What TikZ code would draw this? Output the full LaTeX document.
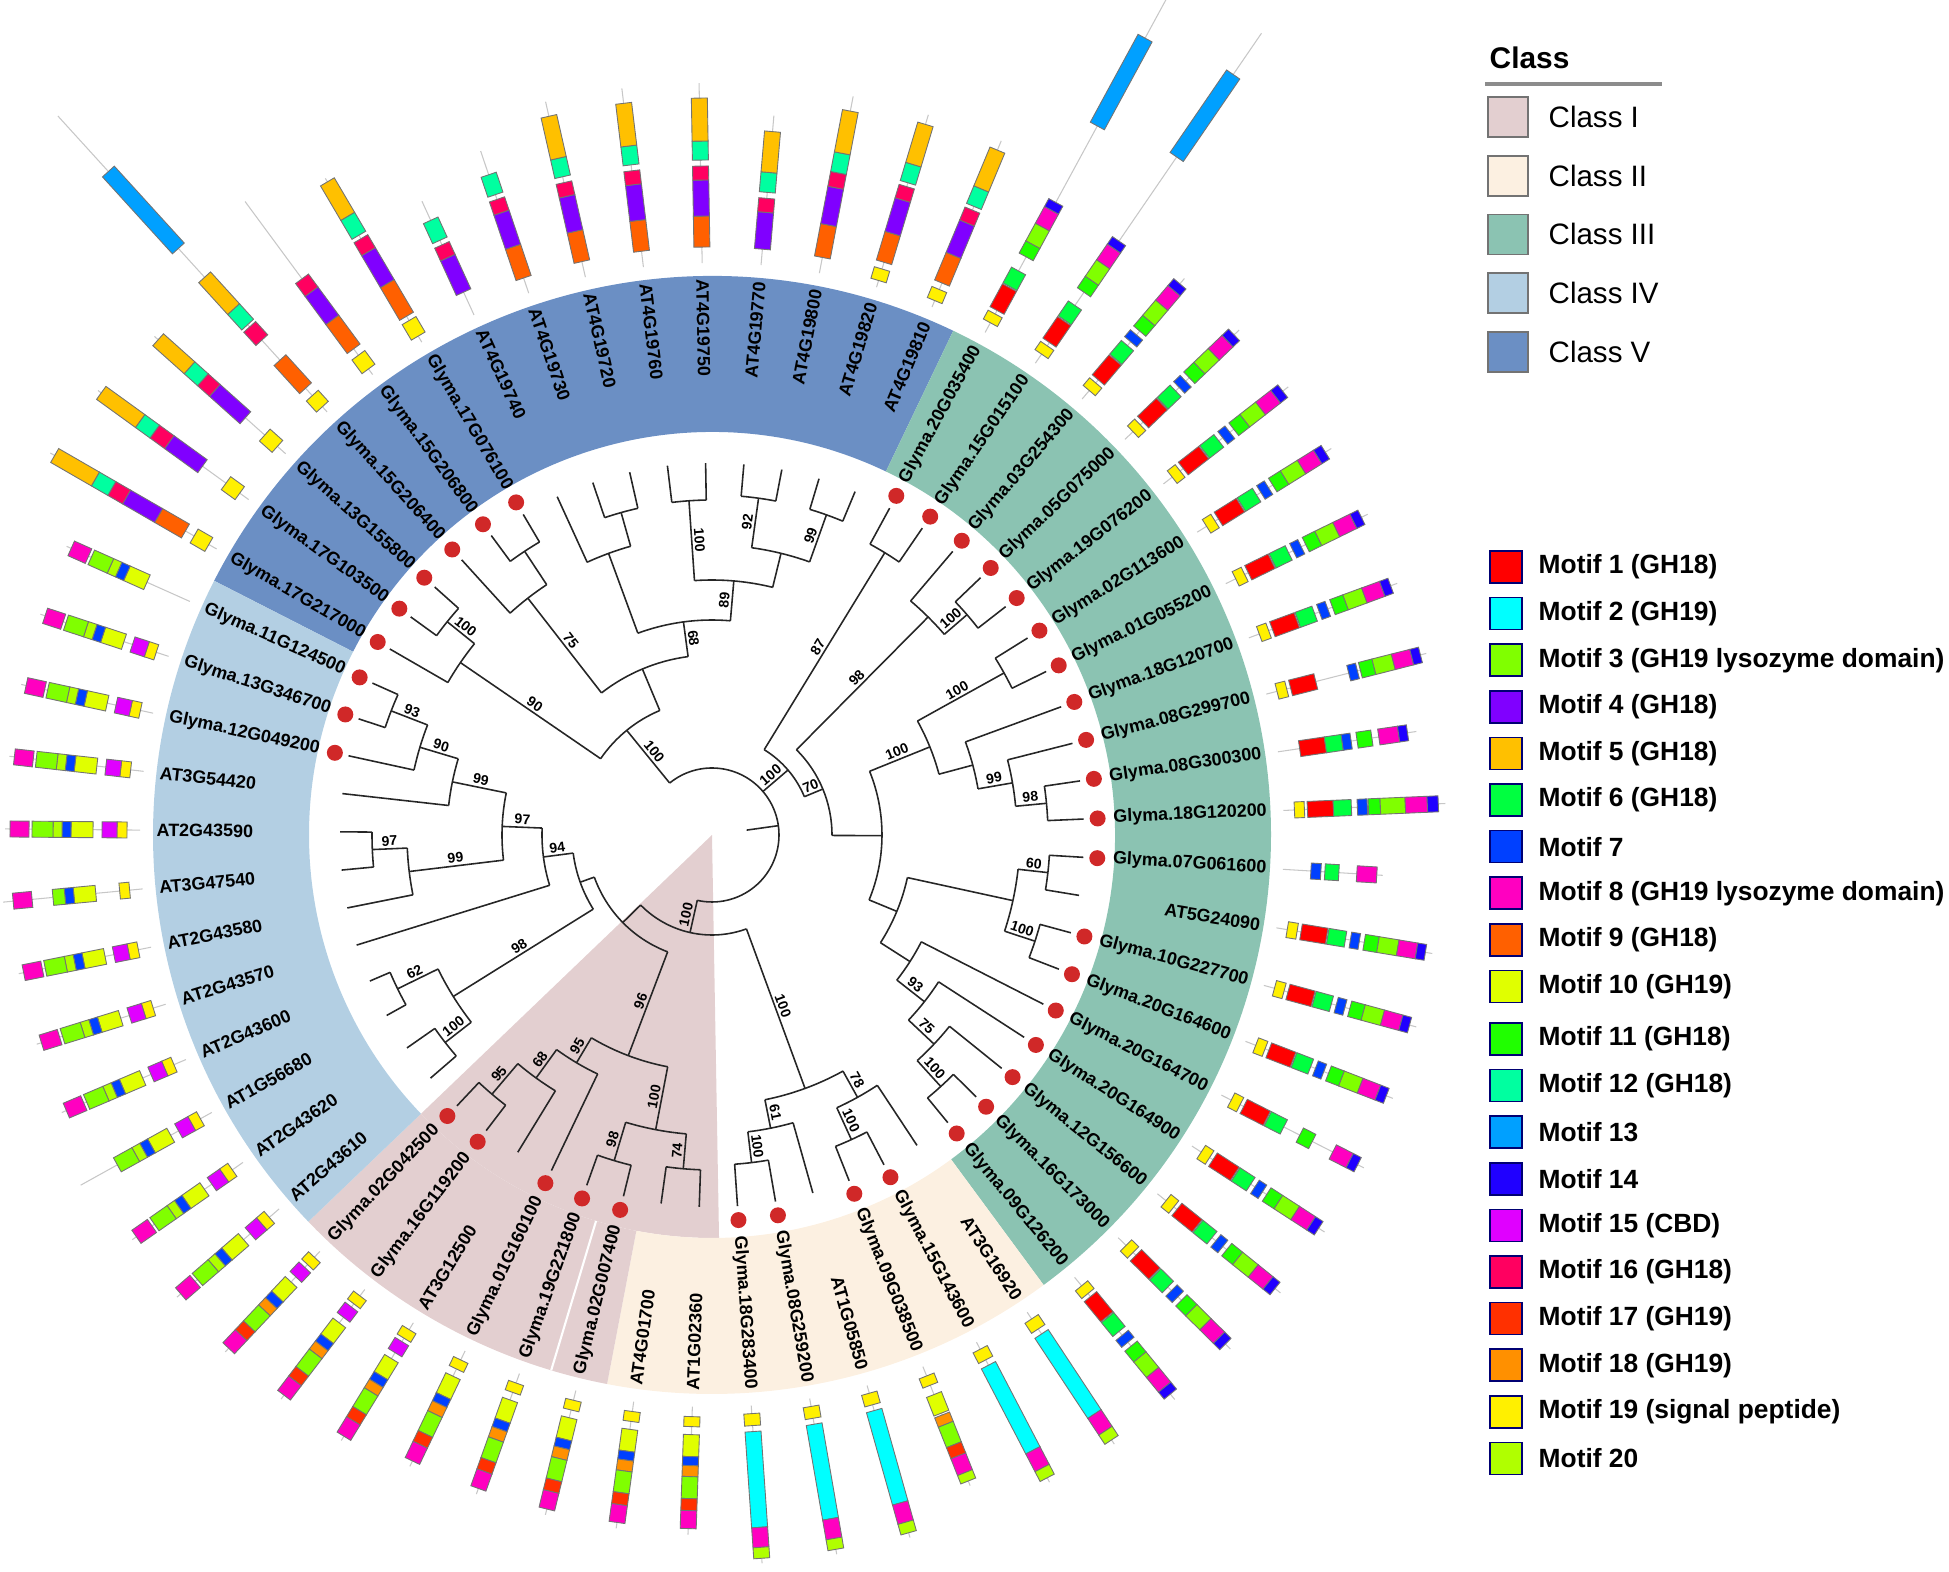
\documentclass[tikz,border=0pt]{standalone}
\usepackage{fontspec}
\setmainfont{Liberation Sans}

\definecolor{clsI}{HTML}{E3CFD0}
\definecolor{clsII}{HTML}{FCF0E1}
\definecolor{clsIII}{HTML}{8BC3B2}
\definecolor{clsIV}{HTML}{B3CFE3}
\definecolor{clsV}{HTML}{6B8FC4}
\definecolor{dotred}{HTML}{D02828}
\definecolor{m1}{HTML}{FF0000}
\definecolor{m2}{HTML}{00FFFF}
\definecolor{m3}{HTML}{80FF00}
\definecolor{m4}{HTML}{8000FF}
\definecolor{m5}{HTML}{FFC000}
\definecolor{m6}{HTML}{00FF40}
\definecolor{m7}{HTML}{0040FF}
\definecolor{m8}{HTML}{FF00C0}
\definecolor{m9}{HTML}{FF6000}
\definecolor{m10}{HTML}{E0FF00}
\definecolor{m11}{HTML}{20FF00}
\definecolor{m12}{HTML}{00FFA0}
\definecolor{m13}{HTML}{00A0FF}
\definecolor{m14}{HTML}{2000FF}
\definecolor{m15}{HTML}{E000FF}
\definecolor{m16}{HTML}{FF0060}
\definecolor{m17}{HTML}{FF3000}
\definecolor{m18}{HTML}{FF9000}
\definecolor{m19}{HTML}{FFF000}
\definecolor{m20}{HTML}{B0FF00}

\tikzset{
  branch/.style={draw=black!85, line width=0.45pt},
  leafdot/.style={circle, fill=dotred, inner sep=0pt, minimum size=1.6mm},
  genelab/.style={font=\fontsize{5.1}{6}\selectfont\bfseries, inner sep=0pt},
  bsval/.style={font=\fontsize{4}{4.5}\selectfont\bfseries, inner sep=0.6pt},
  motifbox/.style={draw=black!55, line width=0.25pt},
  protline/.style={draw=black!22, line width=0.3pt},
  clsq/.style={draw=black!55, line width=0.5pt, minimum size=4mm, inner sep=0pt},
  clstxt/.style={font=\fontsize{8.4}{10}\selectfont, inner sep=0pt},
  motsq/.style={draw=blue!45!black, line width=0.5pt, minimum size=3.2mm, inner sep=0pt},
  mottxt/.style={font=\fontsize{7.5}{9}\selectfont\bfseries, inner sep=0pt}
}

% motif templates (start/length/colour, measured outward from the bar origin)
\def\tplV{16/31/m9,47/36/m4,83/14/m16,103/19/m12,122/43/m5}
\def\tplIII{11/10/m19,25/26/m1,52/18/m6,75/9/m7,89/14/m11,103/20/m3,123/19/m8,142/9/m14}
\def\tplII{8/12/m19,26/96/m2,122/20/m8,142/11/m20}
\def\tplI{10/10/m19,28/22/m10,50/9/m7,59/11/m18,70/22/m3,92/12/m17,104/18/m8}
\def\tplIb{8/10/m19,22/13/m15,42/20/m10,62/9/m7,71/10/m18,81/22/m3,103/12/m17,115/18/m8}
\def\tplIV{13/10/m19,23/15/m15,47/22/m10,69/9/m7,78/9/m20,87/21/m3,111/19/m8}

\newcommand{\motifbar}[3]{%
  \pgfmathsetmacro\ang{150-360/61*#1}%
  \edef\seglist{#3}%
  \begin{scope}[rotate=\ang]
    \draw[protline] (572,0) -- (572+#2,0);
    \foreach \sst/\slen/\scol in \seglist
      {\draw[motifbox, fill=\scol] (572+\sst,-8) rectangle (572+\sst+\slen,8);}
  \end{scope}}

\newcommand{\ringsector}[3]{%
  \fill[#1] (#2:403) arc[start angle=#2, end angle=#3, radius=403]
    -- (#3:559) arc[start angle=#3, end angle=#2, radius=559] -- cycle;}

\begin{document}
\begin{tikzpicture}[x=0.1mm, y=0.1mm]
\useasboundingbox (-712,-737) rectangle (1237,835);

% class shading
\fill[clsI] (0,0) -- (-89:403) arc[start angle=-89, end angle=-136.23, radius=403] -- cycle;
\ringsector{clsV}{152.95}{64.43}
\ringsector{clsIII}{64.43}{-53.61}
\ringsector{clsII}{-53.61}{-100.82}
\ringsector{clsI}{-100.82}{-136.23}
\ringsector{clsIV}{-136.23}{-207.05}
\draw[white, line width=0.6pt] (-106.72:403) -- (-106.72:559);

% tree: radius / arc from / arc to / stem angle / parent radius / bootstrap
\foreach \nr/\na/\nb/\nm/\np/\bv in {
  340/144.10/138.20/141.15/305/100, 305/150.00/141.15/145.58/135/90,
  340/126.39/120.49/123.44/300/{}, 300/132.30/123.44/127.87/180/75,
  335/108.69/102.79/105.74/300/{}, 300/114.59/105.74/110.17/215/{},
  335/96.89/90.98/93.94/255/100, 340/85.08/79.18/82.13/290/92,
  340/73.28/67.38/70.33/290/99, 290/82.13/70.33/76.23/255/{},
  255/93.94/76.23/85.09/215/89, 215/110.17/85.09/97.63/180/68,
  180/127.87/97.63/112.75/135/{}, 135/145.58/112.75/129.17/67/100,
  331/61.48/55.57/58.53/100/87, 337/43.77/37.87/40.82/307/100,
  307/49.67/40.82/45.25/120/98, 334/31.97/26.07/29.02/235/100,
  336/8.36/2.46/5.41/305/98, 305/14.26/5.41/9.84/270/99,
  270/20.16/9.84/15.00/235/{}, 235/29.02/15.00/22.01/170/100,
  338/-3.44/-9.34/-6.39/308/60, 340/-15.25/-21.15/-18.20/308/100,
  308/-6.39/-18.20/-12.30/200/{}, 340/-44.75/-50.66/-47.71/305/100,
  305/-38.85/-47.71/-43.28/270/75, 270/-32.95/-43.28/-38.12/235/93,
  235/-27.05/-38.12/-32.59/200/{}, 200/-12.30/-32.59/-22.45/170/{},
  170/22.01/-22.45/-0.22/120/{}, 120/45.25/-0.22/22.52/100/70,
  100/58.53/22.52/40.52/67/100,
  330/-80.16/-86.07/-83.11/299/100, 299/-74.26/-83.11/-78.69/270/61,
  335/-62.46/-68.36/-65.41/300/100, 300/-56.56/-65.41/-60.98/270/78,
  270/-60.98/-78.69/-69.84/100/100,
  335/-91.97/-97.87/-94.92/300/74, 340/-103.77/-109.67/-106.72/300/98,
  300/-94.92/-106.72/-100.82/236/100, 340/-127.38/-133.28/-130.33/300/95,
  300/-121.48/-130.33/-125.90/265/68, 265/-115.57/-125.90/-120.74/236/95,
  236/-100.82/-120.74/-110.78/125/96,
  338/-139.18/-145.08/-142.13/305/100, 350/-150.98/-156.89/-153.93/305/62,
  305/-142.13/-153.93/-148.03/140/98, 340/-174.59/-180.49/-177.54/305/97,
  305/-168.69/-177.54/-173.12/210/99, 344/-198.20/-204.10/-201.15/305/93,
  305/-192.30/-201.15/-196.72/265/90, 265/-186.39/-196.72/-191.56/210/99,
  210/-173.12/-191.56/-182.34/170/97, 170/-162.79/-182.34/-172.57/140/94,
  140/-148.03/-172.57/-160.30/125/{}, 125/-110.78/-160.30/-135.54/100/{},
  100/-69.84/-135.54/-102.69/67/100}{
  \draw[branch] (\na:\nr) arc[start angle=\na, end angle=\nb, radius=\nr];
  \draw[branch] (\nm:\np) -- (\nm:\nr);
  \pgfmathsetmacro\bmid{(\np+\nr)/2}
  \pgfmathtruncatemacro\rs{cos(\nm)>=0}
  \ifnum\rs=1 \pgfmathsetmacro\brot{\nm}\else\pgfmathsetmacro\brot{\nm+180}\fi
  \node[bsval, rotate=\brot, anchor=south] at (\nm:\bmid) {\bv};
}
\draw[branch] (129.17:67) arc[start angle=129.17, end angle=-102.69, radius=67];
\draw[branch] (8:35) -- (8:67);

% leaves: index / name / red dot / parent radius
\foreach \lk/\gname/\dt/\lp in {
  0/Glyma.17G217000/1/305, 1/Glyma.17G103500/1/340, 2/Glyma.13G155800/1/340,
  3/Glyma.15G206400/1/300, 4/Glyma.15G206800/1/340, 5/Glyma.17G076100/1/340,
  6/AT4G19740/0/300, 7/AT4G19730/0/335, 8/AT4G19720/0/335, 9/AT4G19760/0/335,
  10/AT4G19750/0/335, 11/AT4G19770/0/340, 12/AT4G19800/0/340,
  13/AT4G19820/0/340, 14/AT4G19810/0/340,
  15/Glyma.20G035400/1/331, 16/Glyma.15G015100/1/331, 17/Glyma.03G254300/1/307,
  18/Glyma.05G075000/1/337, 19/Glyma.19G076200/1/337, 20/Glyma.02G113600/1/334,
  21/Glyma.01G055200/1/334, 22/Glyma.18G120700/1/270, 23/Glyma.08G299700/1/305,
  24/Glyma.08G300300/1/336, 25/Glyma.18G120200/1/336, 26/Glyma.07G061600/1/338,
  27/AT5G24090/0/338, 28/Glyma.10G227700/1/340, 29/Glyma.20G164600/1/340,
  30/Glyma.20G164700/1/235, 31/Glyma.20G164900/1/270, 32/Glyma.12G156600/1/305,
  33/Glyma.16G173000/1/340, 34/Glyma.09G126200/1/340,
  35/AT3G16920/0/300, 36/Glyma.15G143600/1/335, 37/Glyma.09G038500/1/335,
  38/AT1G05850/0/299, 39/Glyma.08G259200/1/330, 40/Glyma.18G283400/1/330,
  41/AT1G02360/0/335, 42/AT4G01700/0/335,
  43/Glyma.02G007400/1/340, 44/Glyma.19G221800/1/340, 45/Glyma.01G160100/1/265,
  46/AT3G12500/0/300, 47/Glyma.16G119200/1/340, 48/Glyma.02G042500/1/340,
  49/AT2G43610/0/338, 50/AT2G43620/0/338, 51/AT1G56680/0/350, 52/AT2G43600/0/350,
  53/AT2G43570/0/170, 54/AT2G43580/0/305, 55/AT3G47540/0/340, 56/AT2G43590/0/340,
  57/AT3G54420/0/265, 58/Glyma.12G049200/1/305, 59/Glyma.13G346700/1/344,
  60/Glyma.11G124500/1/344}{
  \pgfmathsetmacro\ang{150-360/61*\lk}
  \draw[branch] (\ang:\lp) -- (\ang:372);
  \ifnum\dt=1 \node[leafdot] (dot\lk) at (\ang:386) {};\fi
  \pgfmathtruncatemacro\rs{cos(\ang)>=0}
  \ifnum\rs=1
    \node[genelab, rotate=\ang, anchor=east] (lab\lk) at (\ang:556) {\gname};
  \else
    \pgfmathsetmacro\lrot{\ang+180}
    \node[genelab, rotate=\lrot, anchor=west] (lab\lk) at (\ang:556) {\gname};
  \fi
}

% motif bars
\motifbar{0}{192}{9/17/m19,36/31/m9,67/37/m4,104/17/m16,121/19/m12,140/47/m5}
\motifbar{1}{186}{11/17/m19,57/41/m4,98/18/m16,116/18/m12,134/48/m5}
\motifbar{2}{176}{11/17/m19,54/41/m4,95/16/m16,111/18/m12,129/42/m5}
\motifbar{3}{400}{7/15/m19,32/38/m9,97/18/m16,118/21/m12,139/43/m5,221/104/m13}
\motifbar{4}{215}{7/17/m19,32/36/m9,68/35/m4,103/16/m16}
\motifbar{5}{190}{7/18/m19,30/38/m9,68/37/m4,105/15/m16,124/22/m12,146/40/m5}
\motifbar{6}{125}{25/38/m4,63/14/m16,82/22/m12}
\motifbar{7}{150}{16/33/m9,49/36/m4,85/14/m16,104/21/m12}
\foreach \lk in {8,9,10} {\motifbar{\lk}{180}{\tplV}}
\motifbar{11}{150}{16/37/m4,53/14/m16,73/20/m12,93/41/m5}
\motifbar{12}{180}{16/33/m9,49/38/m4,87/15/m16,102/20/m12,122/43/m5}
\motifbar{13}{180}{7/12/m19,26/30/m9,56/35/m4,91/14/m16,109/19/m12,128/42/m5}
\motifbar{14}{180}{7/12/m19,26/30/m9,56/35/m4,91/14/m16,109/19/m12,128/42/m5}
\motifbar{15}{400}{11/10/m19,25/26/m1,52/18/m6,86/14/m11,100/20/m3,120/19/m8,139/9/m14,235/100/m13}
\motifbar{16}{400}{11/10/m19,25/26/m1,52/18/m6,86/14/m11,100/20/m3,120/19/m8,139/9/m14,250/100/m13}
\foreach \lk in {17,...,22} {\motifbar{\lk}{158}{\tplIII}}
\motifbar{23}{165}{11/10/m19,25/26/m1,85/9/m7,97/14/m11,111/20/m3,131/19/m8,150/9/m14}
\motifbar{24}{140}{22/26/m1,48/17/m6,65/9/m7,80/15/m11,102/20/m8,122/9/m14}
\motifbar{25}{162}{11/10/m19,24/26/m1,50/18/m6,74/10/m7,85/12/m11,97/25/m3,122/22/m8,144/11/m14}
\motifbar{26}{100}{28/10/m7,42/14/m6,74/20/m8}
\foreach \lk in {27,28,29} {\motifbar{\lk}{158}{\tplIII}}
\motifbar{30}{160}{11/10/m19,25/26/m1,52/18/m6,88/14/m11,125/19/m8,144/9/m14}
\foreach \lk in {31,...,34} {\motifbar{\lk}{158}{\tplIII}}
\foreach \lk in {35,36,38,39,40} {\motifbar{\lk}{158}{\tplII}}
\motifbar{37}{128}{10/10/m19,30/20/m10,52/10/m18,62/22/m3,84/12/m17,96/18/m8,114/9/m20}
\foreach \lk in {41,...,45} {\motifbar{\lk}{128}{\tplI}}
\foreach \lk in {46,47,48} {\motifbar{\lk}{138}{\tplIb}}
\foreach \lk in {49,50,52,53,54,56,57,58,59} {\motifbar{\lk}{135}{\tplIV}}
\motifbar{51}{150}{13/10/m19,23/15/m15,47/22/m10,69/9/m7,78/9/m20,87/21/m3}
\motifbar{55}{140}{13/10/m19,47/22/m10,69/9/m7,78/12/m3,111/19/m8}
\motifbar{60}{135}{47/22/m10,69/9/m7,78/9/m20,87/21/m3,111/19/m8}

% legend: classes
\node[font=\fontsize{8.5}{10}\selectfont\bfseries, anchor=west, inner sep=0pt] (clshead) at (777,777) {Class};
\draw[black!45, line width=1pt] (773,751) -- (950,751);
\foreach \i/\cl/\txt in {1/clsI/Class I, 2/clsII/Class II, 3/clsIII/Class III,
  4/clsIV/Class IV, 5/clsV/Class V}{
  \pgfmathsetmacro\yy{718-58.7*(\i-1)}
  \node[clsq, fill=\cl] (clsbox\i) at (796,\yy) {};
  \node[clstxt, anchor=west] (clslab\i) at (836,\yy) {\txt};
}

% legend: motifs
\foreach \i/\txt in {1/Motif 1 (GH18), 2/Motif 2 (GH19),
  3/Motif 3 (GH19 lysozyme domain), 4/Motif 4 (GH18), 5/Motif 5 (GH18),
  6/Motif 6 (GH18), 7/Motif 7, 8/Motif 8 (GH19 lysozyme domain),
  9/Motif 9 (GH18), 10/Motif 10 (GH19), 11/Motif 11 (GH18), 12/Motif 12 (GH18),
  13/Motif 13, 14/Motif 14, 15/Motif 15 (CBD), 16/Motif 16 (GH18),
  17/Motif 17 (GH19), 18/Motif 18 (GH19), 19/Motif 19 (signal peptide),
  20/Motif 20}{
  \pgfmathsetmacro\yy{835-567-46.6*(\i-1)-(\i>10)*6}
  \node[motsq, fill=m\i] (motbox\i) at (794,\yy) {};
  \node[mottxt, anchor=west] (motlab\i) at (826,\yy) {\txt};
}
\end{tikzpicture}
\end{document}
